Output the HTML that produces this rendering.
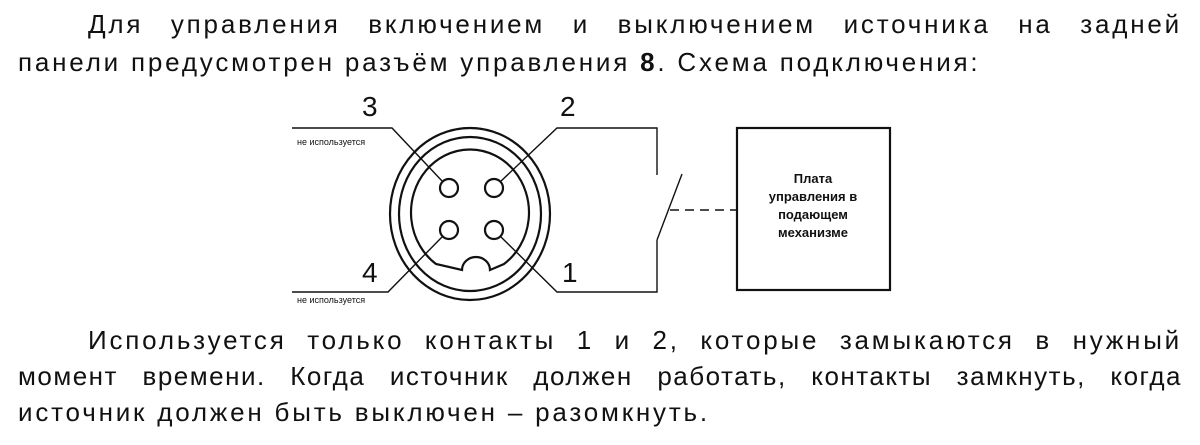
<!DOCTYPE html>
<html><head><meta charset="utf-8"><style>
body{margin:0;width:1200px;height:445px;background:#fff;overflow:hidden;font-family:"Liberation Sans",sans-serif;color:#111}
.p{position:absolute;left:18px;width:1164px;font-size:26px;letter-spacing:2.8px;line-height:36px;text-align:justify;text-align-last:left;white-space:nowrap}
</style></head><body>
<div class="p" style="top:6px;text-indent:70px;text-align-last:justify;white-space:normal">Для управления включением и выключением источника на задней</div>
<div class="p" style="top:44px">панели предусмотрен разъём управления <b>8</b>. Схема подключения:</div>
<svg style="position:absolute;left:0;top:0" width="1200" height="445">
<g fill="none" stroke="#111" stroke-width="2.2">
<ellipse cx="470" cy="214" rx="80" ry="86"/>
<ellipse cx="470" cy="214" rx="71" ry="77"/>
<path d="M436 264 A59 63 0 1 1 504 264 L490 270 A14 13 0 0 0 462 270 Z"/>
<circle cx="449" cy="188" r="9"/><circle cx="494" cy="188" r="9"/>
<circle cx="449" cy="230" r="9"/><circle cx="494" cy="230" r="9"/>
</g>
<g fill="none" stroke="#111" stroke-width="1.4">
<path d="M292 128 H392 L443 182"/>
<path d="M500 182 L557 128 H657 V175"/>
<path d="M500 236 L557 292 H657 V240"/>
<path d="M443 236 L388 292 H292"/>
<path d="M657 240 L682 174"/>
<path d="M670 210 H737" stroke-dasharray="9 6"/>
</g>
<rect x="737" y="128" width="153" height="162" fill="none" stroke="#111" stroke-width="2.2"/>
<g font-family="Liberation Sans,sans-serif" fill="#111">
<text x="362" y="116" font-size="28">3</text>
<text x="560" y="116" font-size="28">2</text>
<text x="362" y="282" font-size="28">4</text>
<text x="562" y="282" font-size="28">1</text>
<text x="297" y="145" font-size="9">не используется</text>
<text x="297" y="303" font-size="9">не используется</text>
<g font-size="13" font-weight="bold" text-anchor="middle">
<text x="813" y="183">Плата</text><text x="813" y="201">управления в</text>
<text x="813" y="219">подающем</text><text x="813" y="237">механизме</text>
</g></g>
</svg>
<div class="p" style="top:322px;text-indent:70px;text-align-last:justify;white-space:normal">Используется только контакты 1 и 2, которые замыкаются в нужный</div>
<div class="p" style="top:358px;text-align-last:justify;white-space:normal;letter-spacing:1.5px">момент времени. Когда источник должен работать, контакты замкнуть, когда</div>
<div class="p" style="top:394px">источник должен быть выключен – разомкнуть.</div>
</body></html>
